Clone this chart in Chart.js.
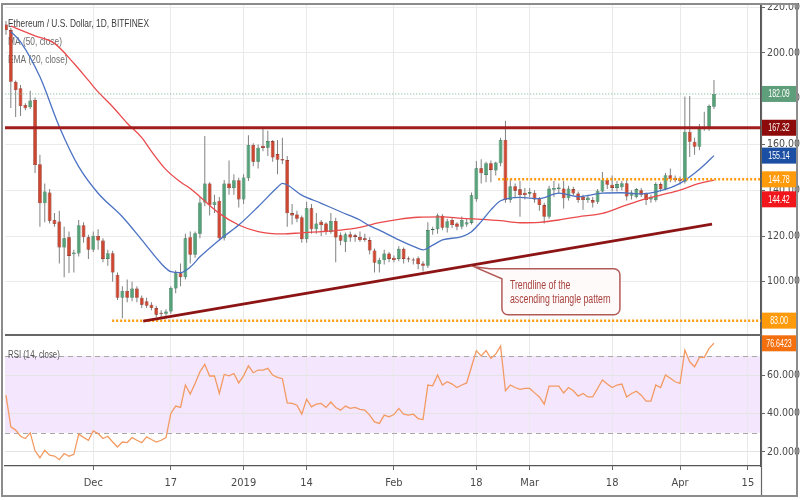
<!DOCTYPE html>
<html>
<head>
<meta charset="utf-8">
<title>Ethereum / U.S. Dollar, 1D, BITFINEX</title>
<script src="https://cdn.jsdelivr.net/npm/chart.js@4.4.1/dist/chart.umd.min.js"></script>
<style>
  html, body { margin: 0; padding: 0; background: #fff; }
  #wrap { width: 800px; height: 500px; }
</style>
</head>
<body>
<div id="wrap"><canvas id="ethChart" width="800" height="500"></canvas></div>
<script>
// daily candles Nov 13 2018 -> Apr 8 2019, x counted in days from Dec 1
const firstDay = -18;

const opens = [
  212.5, 210, 187.4, 184.6, 177.3, 176.3, 179.5, 151.4, 134.3, 139, 127, 126.3, 115, 119.4, 112, 112.4, 124.7, 119.4,
  114, 120, 118, 110, 112.5, 103, 93, 96, 93, 97, 93, 91.5, 90, 88.5, 86.5, 86, 87, 97, 103.7, 102, 119.5, 111.8, 121, 134.6, 143, 133.5, 135.4, 119, 143, 140.9, 144.4,
  136, 145.2, 159.8, 152.5, 159.5, 158.6, 161.5, 155.8, 153.7, 153.2, 130, 129.4, 128.2, 118.6, 132.1, 122.9, 126.2, 125.5, 121.8, 126.6, 120.3, 117.5, 120.8, 120.3, 119.6, 119, 118.2, 113.7, 107.6, 109.5, 112.4,
  110.5, 110, 114.4, 110.3, 109.7, 110.3, 108, 107, 122.6, 123, 128.8, 123.6, 127, 125.5, 124, 125, 125.7, 136.1, 149.6, 146.7, 151.8, 148.6, 151.8, 162, 135.7, 141.8, 140.4, 138.9,
  138.5, 138.9, 136.4, 133.5, 128.4, 140.2, 140.6, 140.8, 136.5, 140.5, 138.6, 137.1, 135.7, 135.7, 135, 139.5, 144.6, 142.4, 141, 141.3, 143.1, 137.6, 137, 140, 138.5, 136, 135.7, 142.7, 140.5, 146.6, 145.5,
  145, 143.7, 165.6, 161.2, 159, 167.2, 167.2, 176.5
];
const highs = [
  214, 211, 188, 186, 178, 183.5, 180.5, 155.5, 143, 140.5, 130, 131, 124, 122, 114, 127, 126, 120.5,
  122, 123, 119, 114, 113.5, 104, 98, 101, 100, 98, 94, 93, 91, 89.5, 87.5, 88, 98, 105, 108, 121, 122, 122, 137, 163.7, 143.5, 138, 137, 144.5, 153, 147, 145.5,
  147, 164, 160.5, 160, 167, 166, 162, 162, 163, 155, 134, 131, 129, 135, 134, 130, 127, 126, 130, 128, 121.5, 121.5, 122, 121, 122, 121, 119.5, 114.5, 110.5, 114, 113,
  111.5, 115.5, 115, 111, 110.5, 111, 109, 126, 124, 129.8, 129.5, 127.5, 128, 126, 128.5, 127.5, 139, 152.8, 153.5, 152.5, 153, 152.5, 163, 170.4, 145, 143, 144, 141,
  141, 140, 137, 134.5, 142, 144, 143, 144, 142, 141.5, 139.5, 138, 138, 137, 140.5, 148, 145.5, 146.5, 144, 144, 144.5, 140, 141, 141, 139, 138, 143.5, 143.5, 147.5, 149.5, 146.5,
  146, 181, 181.2, 163, 169, 174.3, 177.5, 188.2
];
const lows = [
  208, 176, 172, 172.5, 175, 175.5, 147.5, 124, 126, 125.5, 124, 108, 102, 103.8, 104, 111, 117, 110,
  113, 114, 108.5, 107, 100, 92, 84, 91, 91.5, 91, 88.5, 88.5, 87.5, 84.5, 84, 85, 86, 95, 98, 101, 108, 110.5, 119, 133, 129, 130, 118, 118, 138, 138, 132.5,
  134, 144, 150.5, 149.5, 157, 155, 152.5, 147, 151.5, 124, 125, 126, 117, 117, 121, 121, 120, 120.5, 121, 108.5, 116, 113, 117.5, 117.5, 117.5, 117.5, 112, 104, 104, 107.5, 108.5,
  108.5, 109, 108, 108.5, 107.5, 105.5, 104.5, 106, 120.5, 121, 122.5, 121.5, 123.5, 122.5, 123, 124, 125, 135, 143, 143.5, 143.5, 146.5, 150.5, 134.5, 134.5, 136.5, 128.4, 136,
  137, 134.5, 131, 125.5, 127.5, 137, 138.5, 132, 135.5, 137.5, 134.5, 131.5, 134.5, 132.5, 134, 139, 140.5, 139.5, 139.5, 140, 135.5, 136, 136.5, 137, 133.5, 134.5, 135, 139.5, 140, 143.5, 143.5,
  142.5, 143, 154.5, 155.5, 157.5, 166, 166, 175.5
];
const closes = [
  210, 187.4, 183.8, 176.8, 175.8, 179.2, 151, 134.3, 139.4, 126.7, 125.2, 115, 119, 111.3, 112.8, 124.7, 119.4, 114,
  120.1, 118, 110, 112.5, 104, 93, 96, 93, 97, 93, 90, 89.5, 88.5, 85.6, 86, 87, 97.3, 103.7, 102, 119, 111.8, 121.2, 134.6, 143, 133.5, 135, 119, 143, 140.9, 144.4, 136,
  145.6, 159.8, 152.5, 158.6, 158.5, 161.5, 154.3, 153.3, 153, 129.9, 129, 127.5, 118.6, 132.1, 122.9, 125.5, 124.8, 121.8, 126.6, 119.3, 117.9, 120.8, 119.3, 119.6, 118.1, 118.2, 113.7, 108.3, 109.5, 112.4, 110,
  109.5, 114.4, 110, 109.7, 109.3, 107.7, 107, 122.6, 123, 129.1, 123.6, 126.5, 124.8, 124, 127, 126, 137.8, 149.6, 147.4, 151.8, 148.9, 152.1, 162, 135.7, 141.8, 139.8, 137.9, 137.9,
  139.2, 136, 133.5, 128.4, 140.8, 141, 141.2, 136.5, 140.8, 138.6, 135.7, 135.7, 136.8, 134.5, 139.8, 144.6, 142.4, 141, 142.7, 143.1, 137.3, 139, 140.5, 138, 135.7, 137, 142.7, 140.5, 146.6, 144.9, 144.5,
  144.2, 165.6, 161.2, 159, 167.1, 167.6, 176.8, 182.09
];

// RSI (14, close), one value per candle
const rsiValues = [
  49.6, 33.1, 31.4, 28.2, 27, 30, 20.6, 17, 20.9, 18.3, 17.9, 16, 19.2, 17.8, 18.8, 29.3, 27.6, 26.1,
  31, 29.6, 27, 28.2, 25.2, 22.6, 25.2, 24.9, 27.5, 26.1, 24.9, 27.9, 26.5, 25.2, 26.1, 27.5, 40.1, 43.9, 43.2, 54.9, 50.2, 55.7, 61.8, 65.7, 59.6, 59.7, 50.5, 60.4, 59.7, 60.9, 56,
  59.7, 64.9, 61.3, 62.7, 62.7, 63.6, 60.1, 58.9, 58.2, 45.6, 45.3, 44.4, 39.7, 47.5, 43.5, 44.9, 45.3, 43.2, 46, 43.2, 41.8, 43.9, 42.7, 43.2, 42.2, 41.8, 39.2, 35.7, 34.9, 39.2, 38.3,
  39.5, 42.7, 39.7, 39.2, 39.7, 37.4, 36.9, 54.9, 54.5, 60.1, 54.9, 56.6, 55.4, 53.6, 54.9, 56, 64.4, 72.8, 70, 72.8, 68.8, 71, 75.2, 51.9, 54.9, 53.6, 52.6, 53.1,
  53.1, 50.8, 48.7, 44.9, 54.3, 54.3, 54.3, 50.8, 53.6, 51.9, 49.1, 50.5, 48.7, 48.7, 53.1, 57.5, 55.4, 53.6, 54.9, 55.4, 48.7, 50.5, 51.7, 49.6, 46.5, 46.5, 54.9, 53.6, 60.1, 58.4, 56.6,
  55.7, 73.1, 67, 64.4, 69.3, 69.3, 74, 76.6423
];

// moving averages
const ma50Days   = [-17, -12, -8, -4, -1, 1, 4, 7, 10, 12, 15, 18, 20, 22, 26, 30, 34, 39, 43, 47, 51, 55, 59, 63, 67, 72, 76, 80, 84, 88, 92, 96, 100, 105, 109, 113, 117, 121, 125, 128];
const ma50Values = [211.8, 207.5, 204.2, 195.5, 188, 183, 176.5, 169.3, 163, 157, 149, 143.6, 140.8, 137.2, 129.9, 124.8, 121.9, 120.9, 121.4, 121.9, 122.6, 123.8, 125.8, 127.3, 128.2, 128.4, 127.7, 127.3, 126.7, 125.8, 126, 127, 128.4, 129.9, 132.8, 135.7, 137.9, 140.1, 143, 144.42];
const ema20Days   = [-17, -15, -11, -7, -3, 1, 6, 10, 14, 16, 18, 20, 22, 26, 30, 34, 38, 39, 43, 47, 51, 55, 57, 59, 63, 67, 68, 70, 72, 76, 78, 80, 82, 84, 88, 92, 96, 100, 105, 109, 113, 117, 121, 124, 126, 128];
const ema20Values = [209.3, 204.9, 189.6, 167.8, 150.3, 138.7, 128.4, 118.3, 108, 104.4, 104, 106.4, 110.9, 118.3, 124.8, 132.8, 141.3, 143, 137.9, 134.3, 130.6, 127, 124.4, 122.6, 118.3, 114.6, 113.9, 116, 118.3, 119.7, 121.9, 126.3, 131.4, 135.4, 136.9, 136.3, 138.7, 137.2, 138.7, 138.9, 138.4, 139.8, 143, 147.4, 151, 155.14];

// drawn levels
const resistance = 167.32;
const boxTop = 144.78, boxTopFrom = 83.5;
const bottomLevel = 83.0, bottomFrom = 3.9;
const lastPrice = 182.09;
const trendDays = [10.3, 127.6];
const trendValues = [82.8, 125.2];

// axes
const tickDays   = [0, 16, 31, 44, 62, 79, 90, 107, 121, 135];
const tickLabels = ['Dec', '17', '2019', '14', 'Feb', '18', 'Mar', '18', 'Apr', '15'];
const priceTicks = [100, 120, 140, 160, 180, 200, 220];
const rsiTicks   = [20, 40, 60];

const candleDays = opens.map((_, i) => firstDay + i);
const UP = '#55a27a', UP_EDGE = '#2e6a49', DOWN = '#cc4630', DOWN_EDGE = '#7a1e13';
const AXIS_FONT = "'Liberation Sans Narrow', 'DejaVu Sans Condensed', 'Liberation Sans', sans-serif";
const TEXT_FONT = "'Liberation Sans', Arial, sans-serif";

function squeezed(ctx, text, x, y, size, color, sx, align) {
  ctx.save();
  ctx.font = size + 'px ' + TEXT_FONT;
  ctx.fillStyle = color;
  ctx.textBaseline = 'middle';
  ctx.textAlign = align || 'left';
  ctx.translate(x, y);
  ctx.scale(sx, 1);
  ctx.fillText(text, 0, 0);
  ctx.restore();
}

function pts(xs, ys) { return xs.map((x, i) => ({ x, y: ys[i] })); }
function level(v, from) { return [{ x: from, y: v }, { x: 140, y: v }]; }

const panes = {
  id: 'panes',
  beforeDraw(chart) {
    const { ctx, chartArea: a, scales: { yRsi } } = chart;
    const t = yRsi.getPixelForValue(70), b = yRsi.getPixelForValue(30);
    ctx.save();
    ctx.fillStyle = '#f3e6fd';
    ctx.fillRect(a.left, t, a.right - a.left, b - t);
    ctx.restore();
  },
  beforeDatasetsDraw(chart) {
    const { ctx, chartArea: a, scales: { yRsi } } = chart;
    ctx.save();
    ctx.strokeStyle = '#a8a8a8';
    ctx.lineWidth = 1;
    ctx.setLineDash([5, 4]);
    [70, 30].forEach(v => {
      const y = Math.round(yRsi.getPixelForValue(v)) + 0.5;
      ctx.beginPath(); ctx.moveTo(a.left, y); ctx.lineTo(a.right, y); ctx.stroke();
    });
    ctx.restore();
    squeezed(ctx, 'Ethereum / U.S. Dollar, 1D, BITFINEX', 8, 24, 11.8, '#3c3c3c', 0.71);
    squeezed(ctx, 'MA (50, close)', 8, 42, 11.8, '#6b6b6b', 0.71);
    squeezed(ctx, 'EMA (20, close)', 8, 60, 11.8, '#6b6b6b', 0.71);
    squeezed(ctx, 'RSI (14, close)', 8, 355, 11.2, '#555', 0.7);
  },
  afterDraw(chart) {
    const { ctx, chartArea: a, scales: { x, y, yRsi } } = chart;
    ctx.save();
    // pane separator and outer lines
    ctx.strokeStyle = '#666';
    ctx.lineWidth = 2;
    const sep = y.bottom + 1;
    ctx.beginPath(); ctx.moveTo(a.left, sep); ctx.lineTo(a.right, sep); ctx.stroke();
    ctx.lineWidth = 1.2;
    ctx.beginPath(); ctx.moveTo(a.right + 0.5, a.top); ctx.lineTo(a.right + 0.5, 496); ctx.stroke();

    // callout for the trendline
    const apexDay = 78.5;
    const apexVal = trendValues[0] + (apexDay - trendDays[0]) * (trendValues[1] - trendValues[0]) / (trendDays[1] - trendDays[0]);
    const ax = x.getPixelForValue(apexDay), ay = y.getPixelForValue(apexVal) + 2;
    const L = ax + 28, T = ay + 2, R = ax + 146, B = ay + 48, rad = 6;
    ctx.beginPath();
    ctx.moveTo(ax, ay);
    ctx.lineTo(L - 12, T);
    ctx.lineTo(R - rad, T);
    ctx.arcTo(R, T, R, T + rad, rad);
    ctx.lineTo(R, B - rad);
    ctx.arcTo(R, B, R - rad, B, rad);
    ctx.lineTo(L + rad, B);
    ctx.arcTo(L, B, L, B - rad, rad);
    ctx.lineTo(L, T + 10);
    ctx.closePath();
    ctx.fillStyle = '#fffafa';
    ctx.fill();
    ctx.strokeStyle = '#b25a58';
    ctx.lineWidth = 1.5;
    ctx.stroke();
    squeezed(ctx, 'Trendline of the', L + 8, T + 17, 12, '#a8403c', 0.73);
    squeezed(ctx, 'ascending triangle pattern', L + 8, T + 31, 12, '#a8403c', 0.73);

    // price badges on the right axis
    const badges = [
      { v: lastPrice, s: lastPrice.toFixed(2), c: '#5f9e7a', ax: y },
      { v: resistance, s: resistance.toFixed(2), c: '#8e0b0b', ax: y },
      { v: ema20Values[ema20Values.length - 1], s: '155.14', c: '#1b4fa3', ax: y },
      { v: boxTop, s: boxTop.toFixed(2), c: '#ff9a0a', ax: y },
      { v: ma50Values[ma50Values.length - 1], s: '144.42', c: '#f0161b', ax: y },
      { v: bottomLevel, s: bottomLevel.toFixed(2), c: '#ff9a0a', ax: y },
      { v: rsiValues[rsiValues.length - 1], s: '76.6423', c: '#f4700e', ax: yRsi }
    ];
    let prev = -100;
    badges.forEach(b => {
      let by = b.ax.getPixelForValue(b.v);
      if (by < prev + 18) by = prev + 20;
      prev = by;
      ctx.fillStyle = b.c;
      ctx.fillRect(a.right + 1, by - 8, 35, 16);
      squeezed(ctx, b.s, a.right + 18, by + 0.5, 11, '#fff', 0.64, 'center');
    });

    // frame
    ctx.fillStyle = '#fff';
    ctx.fillRect(0, 0, 800, 3);
    ctx.strokeStyle = '#8c8c8c';
    ctx.lineWidth = 2;
    ctx.strokeRect(2, 4, 795, 492);
    ctx.restore();
  }
};

const rightAxisFit = (s) => { s.width = 39; s.paddingTop = 0; s.paddingBottom = 0; };

new Chart(document.getElementById('ethChart'), {
  data: {
    datasets: [
      {
        type: 'bar', label: 'wicks', order: 9, yAxisID: 'y', grouped: false,
        data: candleDays.map((d, i) => ({ x: d, y: [lows[i], highs[i]] })),
        backgroundColor: '#808080', borderWidth: 0, maxBarThickness: 1, barPercentage: 1
      },
      {
        type: 'bar', label: 'candles', order: 8, yAxisID: 'y', grouped: false,
        data: candleDays.map((d, i) => ({ x: d, y: [opens[i], closes[i]] })),
        backgroundColor: closes.map((c, i) => c >= opens[i] ? UP : DOWN),
        borderColor: closes.map((c, i) => c >= opens[i] ? UP_EDGE : DOWN_EDGE),
        borderWidth: 0.6, borderSkipped: false, minBarLength: 1,
        maxBarThickness: 3.8, barPercentage: 1
      },
      {
        type: 'line', label: 'MA (50, close)', order: 7, yAxisID: 'y',
        data: pts(ma50Days, ma50Values), borderColor: '#ea4a4c', borderWidth: 1.3,
        pointRadius: 0, cubicInterpolationMode: 'monotone'
      },
      {
        type: 'line', label: 'EMA (20, close)', order: 6, yAxisID: 'y',
        data: pts(ema20Days, ema20Values), borderColor: '#4b72c2', borderWidth: 1.3,
        pointRadius: 0, cubicInterpolationMode: 'monotone'
      },
      {
        type: 'line', label: 'last', order: 5, yAxisID: 'y', clip: 0,
        data: level(lastPrice, -20), borderColor: '#6fae8a', borderWidth: 1,
        borderDash: [1, 2], pointRadius: 0
      },
      {
        type: 'line', label: 'resistance', order: 4, yAxisID: 'y', clip: 0,
        data: level(resistance, -20), borderColor: '#a11c1c', borderWidth: 3, pointRadius: 0
      },
      {
        type: 'line', label: 'box top', order: 4, yAxisID: 'y', clip: 0,
        data: level(boxTop, boxTopFrom), borderColor: '#ff9a0a', borderWidth: 2.5,
        borderDash: [2, 2], pointRadius: 0
      },
      {
        type: 'line', label: 'bottom', order: 4, yAxisID: 'y', clip: 0,
        data: level(bottomLevel, bottomFrom), borderColor: '#ff9a0a', borderWidth: 2.5,
        borderDash: [2, 2], pointRadius: 0
      },
      {
        type: 'line', label: 'trendline', order: 3, yAxisID: 'y',
        data: pts(trendDays, trendValues), borderColor: '#8c1414', borderWidth: 2.6, pointRadius: 0
      },
      {
        type: 'line', label: 'RSI (14, close)', order: 2, yAxisID: 'yRsi',
        data: pts(candleDays, rsiValues), borderColor: '#f39a62', borderWidth: 1.3, pointRadius: 0
      }
    ]
  },
  options: {
    responsive: false,
    animation: false,
    events: [],
    layout: { padding: { left: 5, top: 5, right: 0, bottom: 0 } },
    plugins: { legend: { display: false }, tooltip: { enabled: false } },
    scales: {
      x: {
        type: 'linear', position: 'bottom', bounds: 'data', offset: false, min: -18.2, max: 137.7,
        afterBuildTicks: (s) => { s.ticks = tickDays.map(v => ({ value: v })); },
        afterFit: (s) => { s.height = 34; s.paddingLeft = 0; s.paddingRight = 0; },
        grid: { offset: false, color: '#e9e9e9', tickLength: 4, tickColor: '#666' },
        border: { color: '#555', width: 1.2 },
        ticks: {
          autoSkip: false, maxRotation: 0, padding: 7, color: '#4a4a4a',
          font: { family: AXIS_FONT, size: 11 },
          callback: (v) => { const k = tickDays.indexOf(v); return k < 0 ? '' : tickLabels[k]; }
        }
      },
      y: {
        type: 'linear', position: 'right', stack: 'panes', stackWeight: 329,
        bounds: 'data', min: 77.16, max: 220.98,
        afterBuildTicks: (s) => { s.ticks = priceTicks.map(v => ({ value: v })); },
        afterFit: rightAxisFit,
        grid: { color: '#ebebeb', tickLength: 4, tickColor: '#666' },
        border: { color: '#555', width: 1.2 },
        ticks: { padding: 2, color: '#4a4a4a', font: { family: AXIS_FONT, size: 10.5 }, callback: (v) => v.toFixed(2) }
      },
      yRsi: {
        type: 'linear', axis: 'y', position: 'right', stack: 'panes', stackWeight: 132,
        bounds: 'data', min: 12.69, max: 81.49,
        afterBuildTicks: (s) => { s.ticks = rsiTicks.map(v => ({ value: v })); },
        afterFit: rightAxisFit,
        grid: { color: '#e4e4e4', tickLength: 4, tickColor: '#666' },
        border: { color: '#555', width: 1.2 },
        ticks: { padding: 2, color: '#4a4a4a', font: { family: AXIS_FONT, size: 10.5 }, callback: (v) => v.toFixed(4) }
      }
    }
  },
  plugins: [panes]
});
</script>
</body>
</html>
